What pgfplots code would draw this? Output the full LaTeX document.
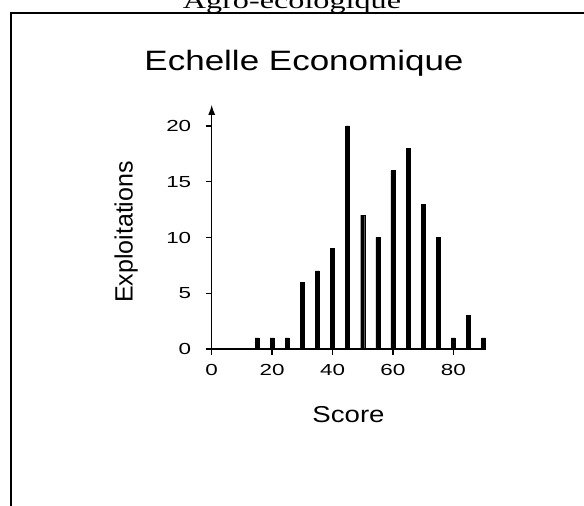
\documentclass[border=0pt]{standalone}
\usepackage{graphicx}
\usepackage{pgfplots}
\pgfplotsset{compat=1.18}
\usepackage{fontspec}
\setmainfont{Liberation Serif}
\setsansfont{Liberation Sans}
\usetikzlibrary{arrows.meta}
\begin{document}
\begin{tikzpicture}[x=1pt,y=1pt]
\useasboundingbox (0,0) rectangle (584,506);
\draw[line width=2pt] (10.5,0) -- (10.5,492.5) -- (590,492.5);
\node[font=\fontsize{23}{27}\selectfont, anchor=base, inner sep=0pt] at (292,497.5) {\scalebox{1.4}[1]{Agro-écologique}};
\node[font=\sffamily\fontsize{28}{34}\selectfont, anchor=base, inner sep=0pt] at (304,435) {\scalebox{1.25}[1]{Echelle Economique}};
\begin{axis}[
  at={(211.7pt,157pt)}, anchor=south west,
  x=3.02pt, y=11.15pt,
  xmin=0, xmax=90.6, ymin=0, ymax=21.9,
  axis x line*=bottom, axis y line=left,
  axis line style={line width=1.3pt},
  every outer y axis line/.append style={-{Latex[length=10pt,width=7pt]}},
  every tick/.append style={black, line width=1.3pt},
  major tick length=6pt, tick align=outside,
  xtick={0,20,40,60,80}, ytick={0,5,10,15,20},
  /pgf/number format/assume math mode=true,
  ticklabel style={font=\sffamily\fontsize{16}{19}\selectfont},
  xticklabel style={yshift=-6pt},
  yticklabel style={xshift=-11pt},
  xticklabel={\scalebox{1.4}[1]{\pgfmathprintnumber{\tick}}},
  yticklabel={\scalebox{1.4}[1]{\pgfmathprintnumber{\tick}}},
  xlabel={\scalebox{1.2}[1]{Score}}, ylabel={Exploitations},
  label style={font=\sffamily\fontsize{23}{27}\selectfont},
  xlabel style={at={(axis description cs:0.5,0)}, anchor=base, yshift=-74pt},
  ylabel style={at={(axis description cs:-0.313,0.479)}, anchor=center, font=\sffamily\fontsize{25}{29}\selectfont},
  clip=false,
]
\addplot[ybar, bar width=4pt, fill=black, draw=black] coordinates {
 (15,1) (20,1) (25,1) (30,6) (35,7) (40,9) (45,20) (50,12) (55,10)
 (60,16) (65,18) (70,13) (75,10) (80,1) (85,3) (90,1)
};
\end{axis}
\end{tikzpicture}
\end{document}
